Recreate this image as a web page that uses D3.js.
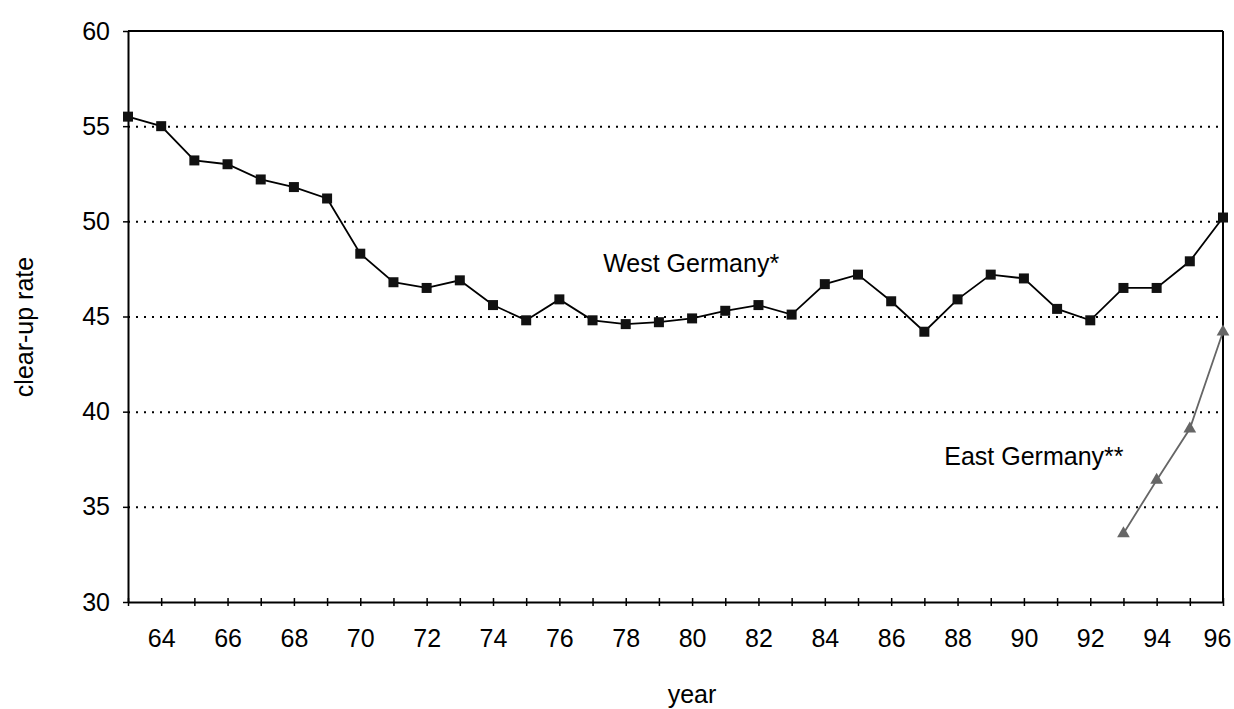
<!DOCTYPE html>
<html>
<head>
<meta charset="utf-8">
<script src="https://cdn.jsdelivr.net/npm/d3@7"></script>
<style>
  body { margin: 0; background: #fff; }
  svg { display: block; font-family: "Liberation Sans", Arial, sans-serif; }
  .axis path, .axis line { stroke: #000; }
  .axis text { font-size: 25px; fill: #000; }
  .grid line { stroke: #000; stroke-width: 2; stroke-dasharray: 2,6; }
  .grid path { display: none; }
</style>
</head>
<body>
<svg width="1234" height="709"></svg>
<script>
// clear-up rate (%) by year
var westYears = d3.range(63, 97);
var westRates = [55.5, 55.0, 53.2, 53.0, 52.2, 51.8, 51.2, 48.3, 46.8, 46.5,
                 46.9, 45.6, 44.8, 45.9, 44.8, 44.6, 44.7, 44.9, 45.3, 45.6,
                 45.1, 46.7, 47.2, 45.8, 44.2, 45.9, 47.2, 47.0, 45.4, 44.8,
                 46.5, 46.5, 47.9, 50.2];
var eastYears = [93, 94, 95, 96];
var eastRates = [33.6, 36.4, 39.1, 44.2];
var yTicks = [30, 35, 40, 45, 50, 55, 60];
var gridTicks = [35, 40, 45, 50, 55];

var svg = d3.select("svg"),
    margin = {top: 31, right: 11, bottom: 107, left: 128},
    width = svg.attr("width") - margin.left - margin.right,
    height = svg.attr("height") - margin.top - margin.bottom,
    g = svg.append("g").attr("transform", "translate(" + margin.left + "," + margin.top + ")");

var x = d3.scaleLinear().domain([63, 96]).range([0, width]),
    y = d3.scaleLinear().domain([30, 60]).range([height, 0]);

var west = westYears.map(function(yr, i) { return {year: yr, rate: westRates[i]}; });
var east = eastYears.map(function(yr, i) { return {year: yr, rate: eastRates[i]}; });

// dotted grid
g.append("g")
    .attr("class", "grid")
    .call(d3.axisLeft(y).tickValues(gridTicks).tickSize(-width).tickFormat(""));

// frame: top and right
g.append("line").attr("x1", 0).attr("x2", width).attr("y1", 0).attr("y2", 0)
    .attr("stroke", "#000").attr("stroke-width", 2);
g.append("line").attr("x1", width).attr("x2", width).attr("y1", 0).attr("y2", height)
    .attr("stroke", "#000").attr("stroke-width", 2);

// x axis, ticks cross the line
var xAxis = g.append("g")
    .attr("class", "axis x")
    .attr("transform", "translate(0," + height + ")")
    .call(d3.axisBottom(x)
        .tickValues(d3.range(63, 97))
        .tickSizeInner(4).tickSizeOuter(0)
        .tickPadding(24)
        .tickFormat(function(d) { return d % 2 === 0 ? d : ""; }));
xAxis.select(".domain").attr("stroke-width", 2);
xAxis.selectAll(".tick line").attr("y1", -4).attr("stroke-width", 1.5);
xAxis.selectAll(".tick text").attr("dy", 0).attr("y", 45);
// last label is pulled in so it stays on the page
xAxis.selectAll(".tick text").filter(function(d) { return d === 96; }).attr("x", -6);

var yAxis = g.append("g")
    .attr("class", "axis y")
    .call(d3.axisLeft(y)
        .tickValues(yTicks)
        .tickSizeInner(5).tickSizeOuter(0)
        .tickPadding(13));
yAxis.select(".domain").attr("stroke-width", 2);
yAxis.selectAll(".tick line").attr("stroke-width", 1.5);

// axis titles
svg.append("text")
    .attr("transform", "translate(33,327) rotate(-90)")
    .attr("text-anchor", "middle")
    .style("font-size", "25px")
    .text("clear-up rate");

svg.append("text")
    .attr("x", 692)
    .attr("y", 703)
    .attr("text-anchor", "middle")
    .style("font-size", "25px")
    .text("year");

var line = d3.line()
    .x(function(d) { return x(d.year); })
    .y(function(d) { return y(d.rate); });

g.append("path")
    .datum(west)
    .attr("fill", "none")
    .attr("stroke", "#000")
    .attr("stroke-width", 1.8)
    .attr("d", line);

g.selectAll(".west-pt").data(west)
  .enter().append("rect")
    .attr("class", "west-pt")
    .attr("x", function(d) { return x(d.year) - 5; })
    .attr("y", function(d) { return y(d.rate) - 5; })
    .attr("width", 10)
    .attr("height", 10)
    .attr("fill", "#111");

g.append("path")
    .datum(east)
    .attr("fill", "none")
    .attr("stroke", "#666")
    .attr("stroke-width", 1.8)
    .attr("d", line);

var tri = d3.symbol().type(d3.symbolTriangle).size(70);
g.selectAll(".east-pt").data(east)
  .enter().append("path")
    .attr("class", "east-pt")
    .attr("transform", function(d) { return "translate(" + x(d.year) + "," + y(d.rate) + ")"; })
    .attr("d", tri)
    .attr("fill", "#666");

// series labels
g.append("text")
    .attr("x", x(77.32))
    .attr("y", y(47.35))
    .style("font-size", "25px")
    .text("West Germany*");

g.append("text")
    .attr("x", x(87.6))
    .attr("y", y(37.2))
    .style("font-size", "25px")
    .text("East Germany**");
</script>
</body>
</html>
